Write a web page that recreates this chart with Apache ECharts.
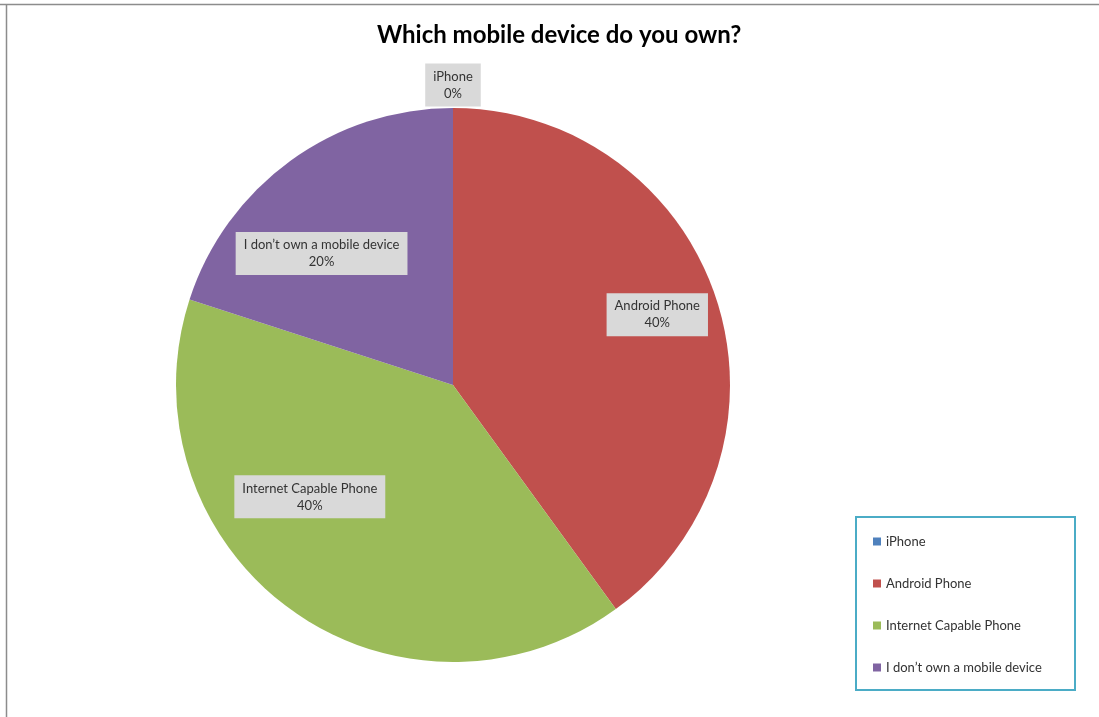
<!DOCTYPE html>
<html lang="en">
<head>
  <meta charset="UTF-8">
  <title>Which mobile device do you own?</title>
  <style>
    html, body { margin: 0; padding: 0; background: #fff; }
    #chart { width: 1099px; height: 717px; }
  </style>
</head>
<body>
  <div id="chart"></div>
  <script src="https://cdn.jsdelivr.net/npm/echarts@6/dist/echarts.min.js"></script>
  <script>
    // data
    var categories = ['iPhone', 'Android Phone', 'Internet Capable Phone', 'I don\u2019t own a mobile device'];
    var values = [0, 40, 40, 20];
    var colors = ['#4f81bd', '#c0504d', '#9bbb59', '#8064a2'];

    // where each label sits: fraction of the radius, and turn (deg) off the slice middle
    var labelDist = [1.083, 0.78, 0.656, 0.671];
    var labelTurn = [0, -1, 16, -9];

    var cx = 453, cy = 385, radius = 277;

    var total = values.reduce(function(a, b) { return a + b }, 0);
    // middle angle of every slice, clockwise from 12 o'clock
    var midAngles = [];
    var acc = 0;
    for (var i = 0; i < values.length; i++) {
      midAngles.push((acc + values[i] / 2) / total * Math.PI * 2);
      acc += values[i];
    }

    var chart = echarts.init(document.getElementById('chart'));

    var option = {
      animation: false,
      color: colors,
      title: {
        text: 'Which mobile device do you own?',
        left: 372,
        top: 18,
        textStyle: {
          fontFamily: 'Lato',
          fontWeight: 'bold',
          fontSize: 24,
          color: '#000'
        }
      },
      legend: {
        orient: 'vertical',
        left: 868,
        top: 530,
        itemWidth: 8,
        itemHeight: 8,
        itemGap: 29,
        icon: 'rect',
        data: categories,
        textStyle: {
          fontFamily: 'Lato',
          fontSize: 13,
          color: '#333'
        }
      },
      graphic: [
        // outer frame, only top and left show in the picture
        { type: 'line', shape: { x1: 0, y1: 4.5, x2: 1099, y2: 4.5 }, style: { stroke: '#8c8c8c', lineWidth: 1.5 } },
        { type: 'line', shape: { x1: 6.5, y1: 4, x2: 6.5, y2: 717 }, style: { stroke: '#8c8c8c', lineWidth: 1.5 } },
        // legend box
        { type: 'rect', shape: { x: 856, y: 517, width: 219, height: 173 }, style: { fill: 'none', stroke: '#4bacc6', lineWidth: 2 } }
      ],
      series: [{
        type: 'pie',
        center: [cx, cy],
        radius: radius,
        startAngle: 90,
        clockwise: true,
        avoidLabelOverlap: false,
        itemStyle: { borderWidth: 0 },
        emphasis: { disabled: true },
        label: {
          show: true,
          position: 'inside',
          formatter: '{b}\n{d}%',
          fontFamily: 'Lato',
          fontSize: 13,
          lineHeight: 17,
          color: '#333',
          backgroundColor: '#d9d9d9',
          padding: [5, 8, 4, 8],
          align: 'center'
        },
        labelLine: { show: false },
        labelLayout: function(params) {
          var k = params.dataIndex;
          var a = midAngles[k] + labelTurn[k] * Math.PI / 180;
          var r = radius * labelDist[k];
          return {
            x: cx + Math.sin(a) * r,
            y: cy - Math.cos(a) * r,
            align: 'center',
            verticalAlign: 'middle'
          };
        },
        data: categories.map(function(name, i) {
          return { name: name, value: values[i] };
        })
      }]
    };

    chart.setOption(option);
  </script>
</body>
</html>
